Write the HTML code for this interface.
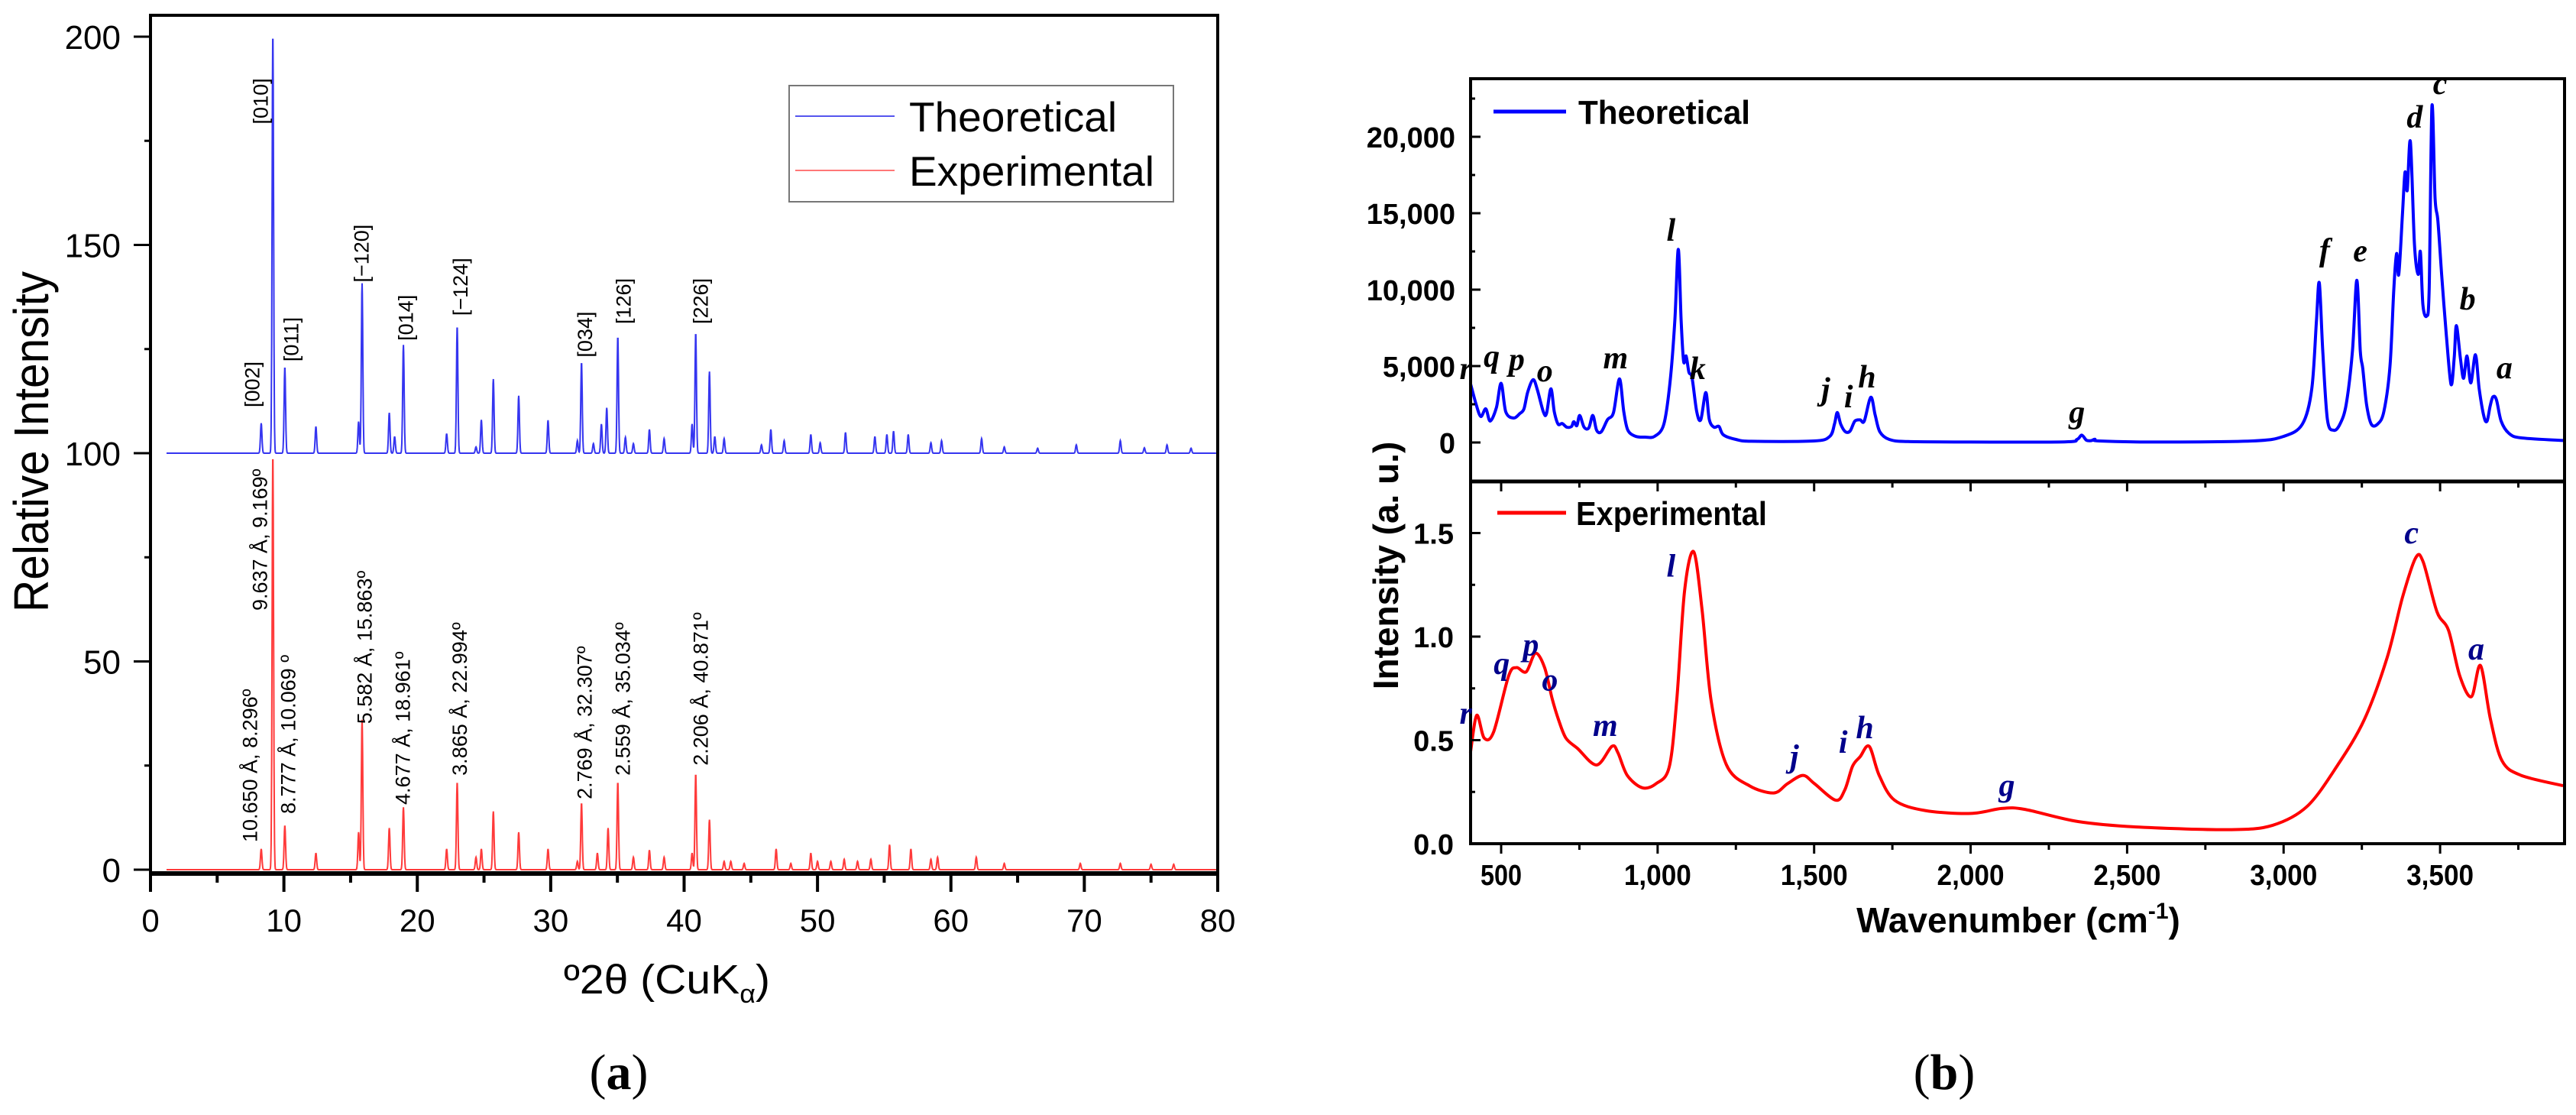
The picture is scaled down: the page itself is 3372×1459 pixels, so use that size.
<!DOCTYPE html>
<html><head><meta charset="utf-8"><style>
html,body{margin:0;padding:0;background:#fff;}
svg{display:block;}
</style></head><body>
<svg id="fig" width="3372" height="1459" viewBox="0 0 3372 1459" xmlns="http://www.w3.org/2000/svg">
<rect x="0" y="0" width="3372" height="1459" fill="#fff"/>
<g id="left"></g>
<g id="right"></g>
</svg>
<script>
// ---------- XRD data (panel a) ----------
const xrdTheoPos = [8.3,9.17,10.07,12.4,15.6,15.86,17.9,18.3,18.96,22.2,22.99,24.4,24.8,25.7,27.6,29.8,32.0,32.31,33.2,33.8,34.2,35.03,35.6,36.2,37.4,38.5,40.6,40.87,41.9,42.3,43.0,45.8,46.5,47.5,49.5,50.2,52.1,54.3,55.2,55.7,56.8,58.5,59.3,62.3,64.0,66.5,69.4,72.7,74.5,76.2,78.0];
const xrdTheoVal = [7.2,101,20.7,6.4,7.6,40.8,9.7,4,26,4.7,30.5,1.5,8,17.8,13.8,7.9,3,21.8,2.3,7,10.9,28,3.8,2.3,5.7,3.5,7,28.9,19.6,4,3.5,2,5.7,3,4.5,2.5,5,4,4.5,5.3,4.5,2.5,3,3.5,1.5,1.2,2,3,1.3,2,1.2];
const xrdExpPos = [8.3,9.17,10.07,12.4,15.6,15.86,17.9,18.96,22.2,22.99,24.4,24.8,25.7,27.6,29.8,32.0,32.31,33.5,34.3,35.03,36.2,37.4,38.5,40.6,40.87,41.9,43.0,43.5,44.5,46.9,48.0,49.5,50.0,51.0,52.0,53.0,54.0,55.4,57.0,58.5,59.0,61.9,64.0,69.7,72.7,75.0,76.7];
const xrdExpVal = [5,100,10.6,4,9,36,10,15,5,21,3,5,14,9,5,2,16,4,10,21,3,4.7,3,4,23,12,2,2,1.5,5,1.5,4,2,2,2.5,2,2.5,6,5,2.5,3,3,1.5,1.5,1.5,1.3,1.3];
const xrdXTicks = [0,10,20,30,40,50,60,70,80];
const xrdYTicks = [0,50,100,150,200];
const xrdTheoLabels = ["[002]","[010]","[011]","[\u2212120]","[014]","[\u2212124]","[034]","[126]","[226]"];
const xrdTheoLabelPos = [8.15,8.78,11.08,16.36,19.68,23.76,33.11,35.98,41.78];
const xrdTheoLabelBase = [111,179,122,141,127,133,123,131,131];
const xrdExpLabels = ["10.650 \u00c5, 8.296\u00ba","9.637 \u00c5, 9.169\u00ba","8.777 \u00c5, 10.069 \u00ba","5.582 \u00c5, 15.863\u00ba","4.677 \u00c5, 18.961\u00ba","3.865 \u00c5, 22.994\u00ba","2.769 \u00c5, 32.307\u00ba","2.559 \u00c5, 35.034\u00ba","2.206 \u00c5, 40.871\u00ba"];
const xrdExpLabelPos = [7.98,8.72,10.85,16.59,19.45,23.70,33.06,35.93,41.78];
const xrdExpLabelBase = [6.6,62.2,13.4,35.0,15.6,22.6,16.9,22.6,25.0];

// ---------- IR data (panel b) ----------
const irTheoWn = [402,420,435,451,465,485,500,515,540,560,573,585,602,615,635,645,659,670,682,695,710,725,732,742,751,765,780,793,805,820,840,859,878,892,905,930,960,990,1020,1040,1055,1066,1075,1083,1091,1100,1110,1125,1138,1154,1165,1180,1196,1210,1250,1300,1500,1550,1565,1574,1585,1600,1615,1630,1647,1660,1681,1695,1710,1740,1800,2000,2300,2340,2355,2370,2385,2397,2410,2600,2900,3000,3060,3090,3105,3114,3125,3140,3160,3180,3200,3220,3234,3245,3253,3265,3280,3300,3320,3340,3352,3361,3368,3380,3388,3395,3405,3418,3430,3437,3445,3457,3465,3474,3484,3493,3505,3520,3535,3545,3552,3565,3575,3586,3598,3613,3625,3640,3650,3660,3669,3680,3695,3720,3760,3900];
const irTheoVal = [3870,2500,1700,2200,1400,2300,3870,2000,1600,1900,2200,3300,4110,3500,2000,1900,3510,2000,1200,1240,1000,1050,1360,1100,1770,1000,950,1770,800,700,1500,1960,4160,2000,800,400,350,400,1200,4000,8000,12640,8000,5300,5660,4600,4230,2000,1500,3270,1500,1000,1050,500,200,80,100,400,1200,1960,1200,700,750,1400,1480,1400,2960,1800,700,200,60,30,40,200,480,150,120,215,100,30,100,400,1200,3500,8000,10440,6000,1500,800,1200,2500,6000,10610,6000,4830,2500,1200,1200,2000,5000,10000,12360,11000,15000,17690,16500,19690,13000,11000,12480,9000,8290,10000,21990,16000,14510,11000,7000,3800,5500,7650,5500,4200,5660,3900,5740,3500,1700,1400,2400,2990,2800,1400,600,300,120];
const irExpWn = [402,422,446,476,524,549,580,610,639,663,683,707,744,805,854,873,903,951,995,1037,1061,1086,1115,1142,1171,1220,1293,1371,1415,1464,1501,1569,1598,1623,1647,1676,1708,1757,1855,2001,2099,2172,2343,2538,2831,2965,3075,3173,3258,3331,3380,3422,3446,3490,3527,3563,3600,3629,3661,3698,3759,3893];
const irExpVal = [0.44,0.62,0.51,0.54,0.81,0.85,0.83,0.92,0.85,0.70,0.60,0.51,0.46,0.38,0.47,0.44,0.33,0.27,0.29,0.37,0.69,1.22,1.41,1.13,0.69,0.38,0.28,0.245,0.29,0.33,0.29,0.21,0.26,0.375,0.42,0.47,0.33,0.21,0.16,0.146,0.17,0.166,0.107,0.08,0.068,0.089,0.18,0.38,0.60,0.90,1.19,1.38,1.36,1.12,1.03,0.81,0.71,0.86,0.60,0.40,0.33,0.28];
const irXTickLabels = ["500","1,000","1,500","2,000","2,500","3,000","3,500"];
const irXTickVals = [500,1000,1500,2000,2500,3000,3500];
const irTopYTickVals = [0,5000,10000,15000,20000];
const irTopYTickLabels = ["0","5,000","10,000","15,000","20,000"];
const irBotYTickVals = [0,0.5,1.0,1.5];
const irBotYTickLabels = ["0.0","0.5","1.0","1.5"];
const irTopLabels = ["r","q","p","o","m","l","k","j","i","h","g","f","e","d","c","b","a"];
const irTopLabelWn = [421,504,584,674,900,1077,1162,1571,1644,1703,2374,3165,3279,3453,3534,3622,3740];
const irTopLabelVal = [4150,4950,4750,4000,4850,13200,4150,2800,2300,3600,1300,11900,11850,20600,22800,8700,4200];
const irBotLabels = ["r","q","p","o","m","l","j","i","h","g","c","a"];
const irBotLabelWn = [421,536,629,690,867,1077,1471,1627,1696,2150,3443,3650];
const irBotLabelVal = [0.58,0.82,0.91,0.74,0.52,1.29,0.37,0.44,0.51,0.23,1.45,0.89];

const NS="http://www.w3.org/2000/svg";
function mk(parent,tag,attrs,text){const e=document.createElementNS(NS,tag);for(const k in attrs)e.setAttribute(k,attrs[k]);if(text!==undefined)e.textContent=text;parent.appendChild(e);return e;}

// ===== Panel a =====
const L=document.getElementById('left');
const ax0=197, ax1=1594, ay0=20, ay1=1143;
function xA(v){return ax0+(v-0)*(ax1-ax0)/80;}
function yA(v){return 1138-v*5.45;}
function xrdCurve(pos,val,offset){
  let pts=[];const s=0.055;
  for(let d=1.2;d<=79.9;d+=0.02){
    let y=0;for(let i=0;i<pos.length;i++){const z=(d-pos[i])/s;if(Math.abs(z)<6)y+=val[i]*Math.exp(-0.5*z*z);}
    pts.push(xA(d).toFixed(1)+","+yA(y+offset).toFixed(1));
  }
  return pts.join(" ");
}
let e;
e=mk(L,'polyline',{points:xrdCurve(xrdExpPos,xrdExpVal,0),fill:'none',stroke:'#ff3a3a','stroke-width':2});


e=mk(L,'polyline',{points:xrdCurve(xrdTheoPos,xrdTheoVal,100),fill:'none',stroke:'#3535f0','stroke-width':2});


e=mk(L,'rect',{x:ax0,y:ay0,width:ax1-ax0,height:ay1-ay0,fill:'none',stroke:'#000','stroke-width':4});


mk(L,'line',{x1:ax0,x2:ax1,y1:ay1,y2:ay1,stroke:'#000','stroke-width':6});
for(let v=0;v<=80;v+=5){const maj=v%10===0;mk(L,'line',{x1:xA(v),x2:xA(v),y1:ay1,y2:ay1+(maj?24:12),stroke:'#000','stroke-width':4});}
xrdXTicks.forEach(v=>{e=mk(L,'text',{x:xA(v),y:1219,'text-anchor':'middle','font-family':'Liberation Sans, sans-serif','font-size':42},String(v));

});
for(let v=0;v<=200;v+=25){const maj=v%50===0;mk(L,'line',{x1:ax0-(maj?22:8),x2:ax0,y1:yA(v),y2:yA(v),stroke:'#000','stroke-width':3});}
xrdYTicks.forEach(v=>{e=mk(L,'text',{x:158,y:yA(v)+16,'text-anchor':'end','font-family':'Liberation Sans, sans-serif','font-size':44},String(v));

});
e=mk(L,'text',{x:0,y:0,transform:'translate(63,578) rotate(-90)','text-anchor':'middle','font-family':'Liberation Sans, sans-serif','font-size':64,textLength:446,lengthAdjust:'spacingAndGlyphs'},'Relative Intensity');


e=mk(L,'text',{x:873,y:1300,'text-anchor':'middle','font-family':'Liberation Sans, sans-serif','font-size':54,textLength:270,lengthAdjust:'spacingAndGlyphs'});


e.innerHTML='\u00ba2\u03b8 (CuK<tspan dy="12" font-size="34">\u03b1</tspan><tspan dy="-12">)</tspan>';
xrdTheoLabels.forEach((t,i)=>{const x=xA(xrdTheoLabelPos[i]);const y=yA(xrdTheoLabelBase[i]);
e=mk(L,'text',{x:0,y:0,transform:`translate(${x},${y}) rotate(-90)`,'font-family':'Liberation Sans, sans-serif','font-size':27,'text-anchor':'start'},t);

});
xrdExpLabels.forEach((t,i)=>{const x=xA(xrdExpLabelPos[i]);const y=yA(xrdExpLabelBase[i]);
e=mk(L,'text',{x:0,y:0,transform:`translate(${x},${y}) rotate(-90)`,'font-family':'Liberation Sans, sans-serif','font-size':27,'text-anchor':'start'},t);

});
// legend
const lg=mk(L,'g',{});


mk(lg,'rect',{x:1033,y:112,width:503,height:152,fill:'#fff',stroke:'#777','stroke-width':2});
mk(lg,'line',{x1:1041,x2:1171,y1:152,y2:152,stroke:'#5555ee','stroke-width':2});
mk(lg,'line',{x1:1041,x2:1171,y1:223,y2:223,stroke:'#ff7777','stroke-width':2});
mk(lg,'text',{x:1190,y:172,'font-family':'Liberation Sans, sans-serif','font-size':55},'Theoretical');
mk(lg,'text',{x:1190,y:243,'font-family':'Liberation Sans, sans-serif','font-size':55},'Experimental');
e=mk(L,'text',{x:810,y:1425,'text-anchor':'middle','font-family':'Liberation Serif, serif','font-size':66});


e.innerHTML='(<tspan font-weight="bold">a</tspan>)';

// ===== Panel b =====
const R=document.getElementById('right');
const bx0=1925,bx1=3357,by0=103,bmid=630,by1=1104;
function xB(v){return 1965+(v-500)*0.4097;}
function yT(v){return 579-v*0.02;}
function yB(v){return 1104-v*271;}
function smoothPath(wn,val,ys){
  const p=wn.map((w,i)=>[xB(w),ys(val[i])]);
  let d='M'+p[0][0].toFixed(1)+','+p[0][1].toFixed(1);
  for(let i=0;i<p.length-1;i++){
    const p0=p[Math.max(0,i-1)],p1=p[i],p2=p[i+1],p3=p[Math.min(p.length-1,i+2)];
    const t=0.16;
    const c1=[p1[0]+(p2[0]-p0[0])*t,p1[1]+(p2[1]-p0[1])*t];
    const c2=[p2[0]-(p3[0]-p1[0])*t,p2[1]-(p3[1]-p1[1])*t];
    d+=' C'+c1[0].toFixed(1)+','+c1[1].toFixed(1)+' '+c2[0].toFixed(1)+','+c2[1].toFixed(1)+' '+p2[0].toFixed(1)+','+p2[1].toFixed(1);
  }
  return d;
}
e=mk(R,'path',{d:smoothPath(irTheoWn,irTheoVal,yT),fill:'none',stroke:'#0000ff','stroke-width':4,'stroke-linejoin':'round'});


e=mk(R,'path',{d:smoothPath(irExpWn,irExpVal,yB),fill:'none',stroke:'#ff0000','stroke-width':4,'stroke-linejoin':'round'});


e=mk(R,'rect',{x:bx0,y:by0,width:bx1-bx0,height:by1-by0,fill:'none',stroke:'#000','stroke-width':4});


mk(R,'line',{x1:bx0,x2:bx1,y1:bmid,y2:bmid,stroke:'#000','stroke-width':5});
for(let v=500;v<=3750;v+=250){const maj=v%500===0;
  mk(R,'line',{x1:xB(v),x2:xB(v),y1:bmid,y2:bmid+(maj?13:8),stroke:'#000','stroke-width':3});
  mk(R,'line',{x1:xB(v),x2:xB(v),y1:by1,y2:by1+(maj?13:8),stroke:'#000','stroke-width':3});}
irXTickVals.forEach((v,i)=>{e=mk(R,'text',{x:xB(v),y:1158,'text-anchor':'middle','font-family':'Liberation Sans, sans-serif','font-weight':'bold','font-size':38,textLength:irXTickLabels[i].length*16+ (irXTickLabels[i].length>3?8:6),lengthAdjust:'spacingAndGlyphs'},irXTickLabels[i]);

});
for(let v=-2500;v<=22500;v+=2500){const maj=v%5000===0&&v>=0;mk(R,'line',{x1:bx0,x2:bx0+(maj?13:6),y1:yT(v),y2:yT(v),stroke:'#000','stroke-width':3});}
irTopYTickVals.forEach((v,i)=>{e=mk(R,'text',{x:1905,y:yT(v)+14,'text-anchor':'end','font-family':'Liberation Sans, sans-serif','font-weight':'bold','font-size':38},irTopYTickLabels[i]);

});
for(let v=0;v<=1.75;v+=0.25){const maj=Math.abs(v*2-Math.round(v*2))<1e-6;mk(R,'line',{x1:bx0,x2:bx0+(maj?13:6),y1:yB(v),y2:yB(v),stroke:'#000','stroke-width':3});}
irBotYTickVals.forEach((v,i)=>{e=mk(R,'text',{x:1903,y:yB(v)+14,'text-anchor':'end','font-family':'Liberation Sans, sans-serif','font-weight':'bold','font-size':38},irBotYTickLabels[i]);

});
e=mk(R,'text',{x:0,y:0,transform:'translate(1830,740) rotate(-90)','text-anchor':'middle','font-family':'Liberation Sans, sans-serif','font-weight':'bold','font-size':46},'Intensity (a. u.)');


e=mk(R,'text',{x:2642,y:1220,'text-anchor':'middle','font-family':'Liberation Sans, sans-serif','font-weight':'bold','font-size':46});


e.innerHTML='Wavenumber (cm<tspan dy="-18" font-size="30">-1</tspan><tspan dy="18">)</tspan>';
// legends
mk(R,'line',{x1:1955,x2:2050,y1:146,y2:146,stroke:'#0000ff','stroke-width':5});
e=mk(R,'text',{x:2066,y:162,'font-family':'Liberation Sans, sans-serif','font-weight':'bold','font-size':44,textLength:225,lengthAdjust:'spacingAndGlyphs'},'Theoretical');


mk(R,'line',{x1:1960,x2:2050,y1:671,y2:671,stroke:'#ff0000','stroke-width':5});
e=mk(R,'text',{x:2063,y:687,'font-family':'Liberation Sans, sans-serif','font-weight':'bold','font-size':44,textLength:250,lengthAdjust:'spacingAndGlyphs'},'Experimental');


irTopLabels.forEach((t,i)=>{e=mk(R,'text',{x:xB(irTopLabelWn[i])-14,y:yT(irTopLabelVal[i]),'text-anchor':'middle','font-family':'Liberation Serif, serif','font-style':'italic','font-weight':'bold','font-size':42,fill:'#000'},t);

});
irBotLabels.forEach((t,i)=>{e=mk(R,'text',{x:xB(irBotLabelWn[i])-14,y:yB(irBotLabelVal[i]),'text-anchor':'middle','font-family':'Liberation Serif, serif','font-style':'italic','font-weight':'bold','font-size':42,fill:'#00008b'},t);

});
e=mk(R,'text',{x:2545,y:1425,'text-anchor':'middle','font-family':'Liberation Serif, serif','font-size':66});


e.innerHTML='(<tspan font-weight="bold">b</tspan>)';
</script>
</body></html>
